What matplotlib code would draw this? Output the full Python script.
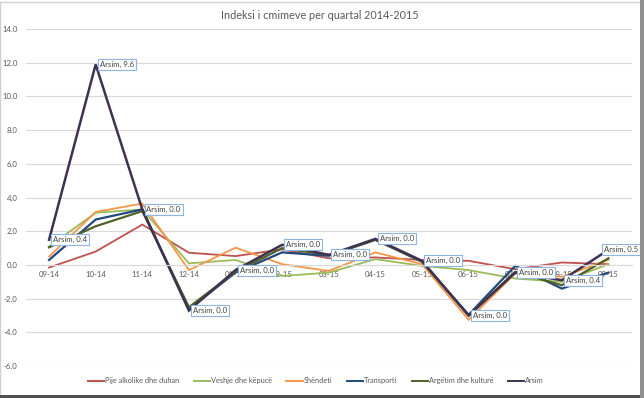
import matplotlib.pyplot as plt
from matplotlib.lines import Line2D
from matplotlib.patches import Rectangle

plt.rcParams['font.family'] = ['Lato', 'DejaVu Sans']

# Data
muajt = ['09-14', '10-14', '11-14', '12-14', '01-15', '02-15', '03-15',
         '04-15', '05-15', '06-15', '07-15', '08-15', '09-15']
pije = [-0.15, 0.8, 2.4, 0.73, 0.53, 0.93, 0.4, 0.45, 0.3, 0.25, -0.25, 0.15, 0.05]
veshje = [1.1, 3.1, 3.3, 0.1, 0.3, -0.65, -0.45, 0.35, -0.05, -0.3, -0.8, -1.0, 0.05]
shendeti = [0.5, 3.15, 3.65, -0.3, 1.03, 0.05, -0.35, 0.75, 0.05, -3.25, -0.5, -0.7, 0.3]
transporti = [0.3, 2.7, 3.3, -2.6, -0.45, 0.75, 0.55, 1.5, 0.2, -2.95, -0.05, -1.4, -0.45]
argetim = [1.05, 2.3, 3.2, -2.5, -0.4, 1.0, 0.6, 1.5, 0.2, -3.0, -0.4, -1.2, 0.4]
arsim = [1.5, 11.9, 3.3, -2.7, -0.3, 1.2, 0.6, 1.55, 0.25, -3.0, -0.45, -0.9, 0.9]
arsim_lbl = ['0.4', '9.6', '0.0', '0.0', '0.0', '0.0', '0.0', '0.0', '0.0', '0.0',
             '0.0', '0.4', '0.5']

seri = [
    ('Pije alkolike dhe duhan', pije, '#C0504D', 1.3),
    ('Veshje dhe këpucë', veshje, '#9BBB59', 1.3),
    ('Shëndeti', shendeti, '#F79646', 1.3),
    ('Transporti', transporti, '#1F497D', 1.6),
    ('Argëtim dhe kulturë', argetim, '#4F6228', 1.6),
    ('Arsim', arsim, '#403152', 1.8),
]

fig = plt.figure(figsize=(6.44, 3.98), dpi=100)
ax = fig.add_axes([0.040, 0.080, 0.941, 0.847])

x = list(range(len(muajt)))
for emri, vlerat, ngjyra, lw in seri:
    ax.plot(x, vlerat, color=ngjyra, lw=lw, label=emri, solid_joinstyle='miter')

for i, v in enumerate(arsim):
    # etiketa e fundit shtyhet majtas qe te mos dale jashte
    dx = 3 if i < len(arsim) - 1 else -3
    ax.annotate('Arsim, ' + arsim_lbl[i], (i, v), xytext=(dx, 0),
                textcoords='offset points', va='center', ha='left',
                fontsize=5.6, color='#404040', annotation_clip=False,
                bbox=dict(boxstyle='square,pad=0.25', fc='white',
                          ec='#8EB4E3', lw=0.8))

ax.set_xlim(-0.5, 12.5)
ax.set_ylim(-6, 14)
ax.set_yticks(range(-6, 15, 2))
ax.set_yticklabels(['%.1f' % t for t in range(-6, 15, 2)])
ax.yaxis.grid(True, color='#D9D9D9', lw=0.8)
ax.set_axisbelow(True)
ax.tick_params(axis='y', length=0, labelsize=5.6, labelcolor='#595959', pad=6)

ax.set_xticks(x)
ax.set_xticklabels(muajt)
ax.spines['bottom'].set_position(('data', 0))
ax.spines['bottom'].set_color('#D9D9D9')
ax.tick_params(axis='x', length=0, labelsize=5.6, labelcolor='#595959', pad=4)
for s in ['top', 'right', 'left']:
    ax.spines[s].set_visible(False)

fig.text(0.497, 0.962, 'Indeksi i cmimeve per quartal 2014-2015', ha='center',
         va='center', fontsize=7.8, color='#595959')

handles = [Line2D([], [], color=c, lw=1.4) for _, _, c, _ in seri]
fig.legend(handles, [s[0] for s in seri], loc='center', bbox_to_anchor=(0.49, 0.043),
           ncol=6, frameon=False, fontsize=5.3, handlelength=2.2,
           handletextpad=0.1, columnspacing=2.0, labelcolor='#595959')

# korniza
fig.patches.append(Rectangle((0, 0), 0.995, 0.995, transform=fig.transFigure,
                             fill=False, ec='#D0D0D0', lw=1))
fig.patches.append(Rectangle((0, 0), 1, 0.008, transform=fig.transFigure,
                             fc='#505050', ec='none'))
fig.patches.append(Rectangle((0.994, 0), 0.006, 1, transform=fig.transFigure,
                             fc='#909090', ec='none'))

fig.savefig('out.png', dpi=100)
